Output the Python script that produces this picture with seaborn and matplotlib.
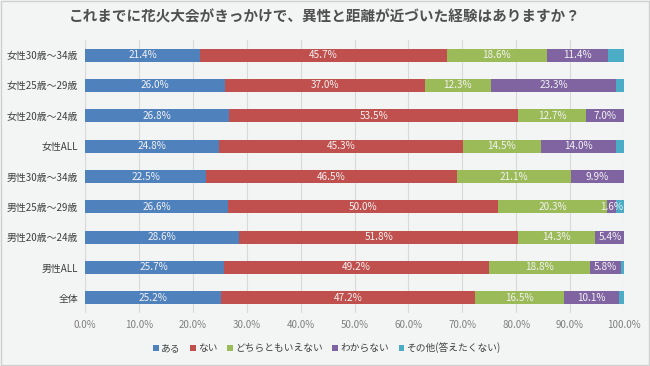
import matplotlib
matplotlib.use("Agg")
import matplotlib.pyplot as plt
import seaborn as sns
import pandas as pd
import numpy as np
from matplotlib.patches import Patch, Rectangle

categories = ["女性30歳～34歳", "女性25歳～29歳", "女性20歳～24歳", "女性ALL",
              "男性30歳～34歳", "男性25歳～29歳", "男性20歳～24歳", "男性ALL", "全体"]
series_names = ["ある", "ない", "どちらともいえない", "わからない", "その他(答えたくない)"]
aru = [21.4, 26.0, 26.8, 24.8, 22.5, 26.6, 28.6, 25.7, 25.2]
nai = [45.7, 37.0, 53.5, 45.3, 46.5, 50.0, 51.8, 49.2, 47.2]
dochira = [18.6, 12.3, 12.7, 14.5, 21.1, 20.3, 14.3, 18.8, 16.5]
wakaranai = [11.4, 23.3, 7.0, 14.0, 9.9, 1.6, 5.4, 5.8, 10.1]
sonota = [2.9, 1.4, 0.0, 1.4, 0.0, 1.5, 0.0, 0.5, 1.0]
xticks = [0, 10, 20, 30, 40, 50, 60, 70, 80, 90, 100]
title = "これまでに花火大会がきっかけで、異性と距離が近づいた経験はありますか？"

colors = ["#4f81bd", "#c0504d", "#9bbb59", "#8064a2", "#4bacc6"]
series = [aru, nai, dochira, wakaranai, sonota]

sns.set_theme(style="white")
plt.rcParams["font.family"] = ["Noto Sans CJK JP", "DejaVu Sans"]

bg = "#f3f5f5"
fig = plt.figure(figsize=(6.5, 3.66), dpi=100, facecolor=bg)
ax = fig.add_axes([85/650, 1-313/366, (624-85)/650, (313-40)/366])
ax.set_facecolor(bg)

cum = np.cumsum(np.array(series), axis=0)
for i in range(len(series) - 1, -1, -1):
    df = pd.DataFrame({"cat": categories, "val": np.minimum(cum[i], 100.0)})
    sns.barplot(data=df, x="val", y="cat", orient="h", color=colors[i],
                width=0.43, ax=ax, saturation=1, edgecolor="none", zorder=3)

# labels
for i in range(4):
    for j, cat in enumerate(categories):
        v = series[i][j]
        if v <= 0:
            continue
        left = cum[i][j] - v
        ax.text(left + v / 2, j, f"{v:.1f}%", ha="center", va="center",
                fontsize=7.2, color="#f2f2f2", zorder=5)

ax.set_xlim(0, 100)
ax.set_ylim(8.5, -0.5)
ax.set_xticks(xticks)
ax.set_xticklabels([f"{t:.1f}%" for t in xticks], fontsize=7, color="#7f7f7f")
ax.tick_params(axis="x", length=0, pad=5)
ax.tick_params(axis="y", length=0, pad=5, labelsize=7.1, labelcolor="#404040")
ax.set_xlabel("")
ax.set_ylabel("")
ax.grid(axis="x", color="#d9d9d9", linewidth=0.8, zorder=0)
ax.set_axisbelow(True)
for s in ax.spines.values():
    s.set_visible(False)
ax.axvline(0, color="#d9d9d9", linewidth=0.8, zorder=1)

fig.text(0.5, 1 - 16/366, title, ha="center", va="center", fontsize=10.5,
         fontweight="bold", color="#505050")

handles = [Patch(facecolor=c, edgecolor="none") for c in colors]
fig.legend(handles, series_names, loc="center", bbox_to_anchor=(327/650, 1 - 348/366),
           ncol=5, frameon=False, fontsize=7, handlelength=0.55, handleheight=0.55,
           handletextpad=0.25, columnspacing=1.0, labelcolor="#404040")

fig.patches.append(Rectangle((0.002, 0.003), 0.996, 0.994, transform=fig.transFigure,
                             fill=False, edgecolor="#d0d0d0", linewidth=1))

fig.savefig("out.png", dpi=100, facecolor=bg)
